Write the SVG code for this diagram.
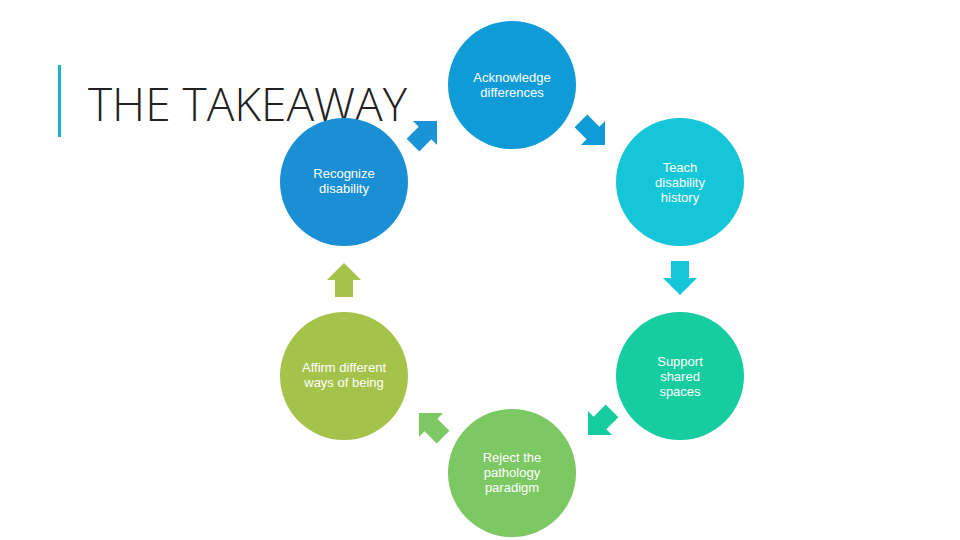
<svg xmlns="http://www.w3.org/2000/svg" width="960" height="540" viewBox="0 0 960 540">
<style>
.t{font-family:"Liberation Sans",Arial,sans-serif;font-size:13px;fill:#fff;text-anchor:middle}
.title{font-family:"Open Sans","Liberation Sans",sans-serif;font-size:46px;fill:#222;font-weight:300}
</style>
<defs><polygon id="ar" points="-17,-9 0,-9 0,-17 17,0 0,17 0,9 -17,9"/></defs>
<rect width="960" height="540" fill="#fff"/>
<rect x="58" y="65" width="3" height="72" fill="#1AB3C8"/>
<text class="title" x="88" y="121">THE TAKEAWAY</text>
<g id="connectors">
<use href="#ar" fill="#1A94D6" transform="translate(425,133) rotate(-45)"/>
<use href="#ar" fill="#0E9BD8" transform="translate(593,133) rotate(45)"/>
<use href="#ar" fill="#14C6D8" transform="translate(680,278) rotate(90)"/>
<use href="#ar" fill="#16CD9F" transform="translate(600,423) rotate(135)"/>
<use href="#ar" fill="#7CC862" transform="translate(431,425) rotate(-135)"/>
<use href="#ar" fill="#A5C24A" transform="translate(344,280) rotate(-90)"/>
</g>
<g id="n1"><circle cx="512" cy="85" r="64" fill="#0E9BD8"/><text class="t" x="512" y="82">Acknowledge</text><text class="t" x="512" y="97">differences</text></g>
<g id="n2"><circle cx="680" cy="182" r="64" fill="#14C6D8"/><text class="t" x="680" y="172">Teach</text><text class="t" x="680" y="187">disability</text><text class="t" x="680" y="202">history</text></g>
<g id="n3"><circle cx="680" cy="376" r="64" fill="#16CD9F"/><text class="t" x="680" y="366">Support</text><text class="t" x="680" y="381">shared</text><text class="t" x="680" y="396">spaces</text></g>
<g id="n4"><circle cx="512" cy="473" r="64" fill="#7CC862"/><text class="t" x="512" y="462">Reject the</text><text class="t" x="512" y="477">pathology</text><text class="t" x="512" y="492">paradigm</text></g>
<g id="n5"><circle cx="344" cy="376" r="64" fill="#A5C24A"/><text class="t" x="344" y="372">Affirm different</text><text class="t" x="344" y="387">ways of being</text></g>
<g id="n6"><circle cx="344" cy="182" r="64" fill="#1A8FD6"/><text class="t" x="344" y="178">Recognize</text><text class="t" x="344" y="193">disability</text></g>
</svg>
